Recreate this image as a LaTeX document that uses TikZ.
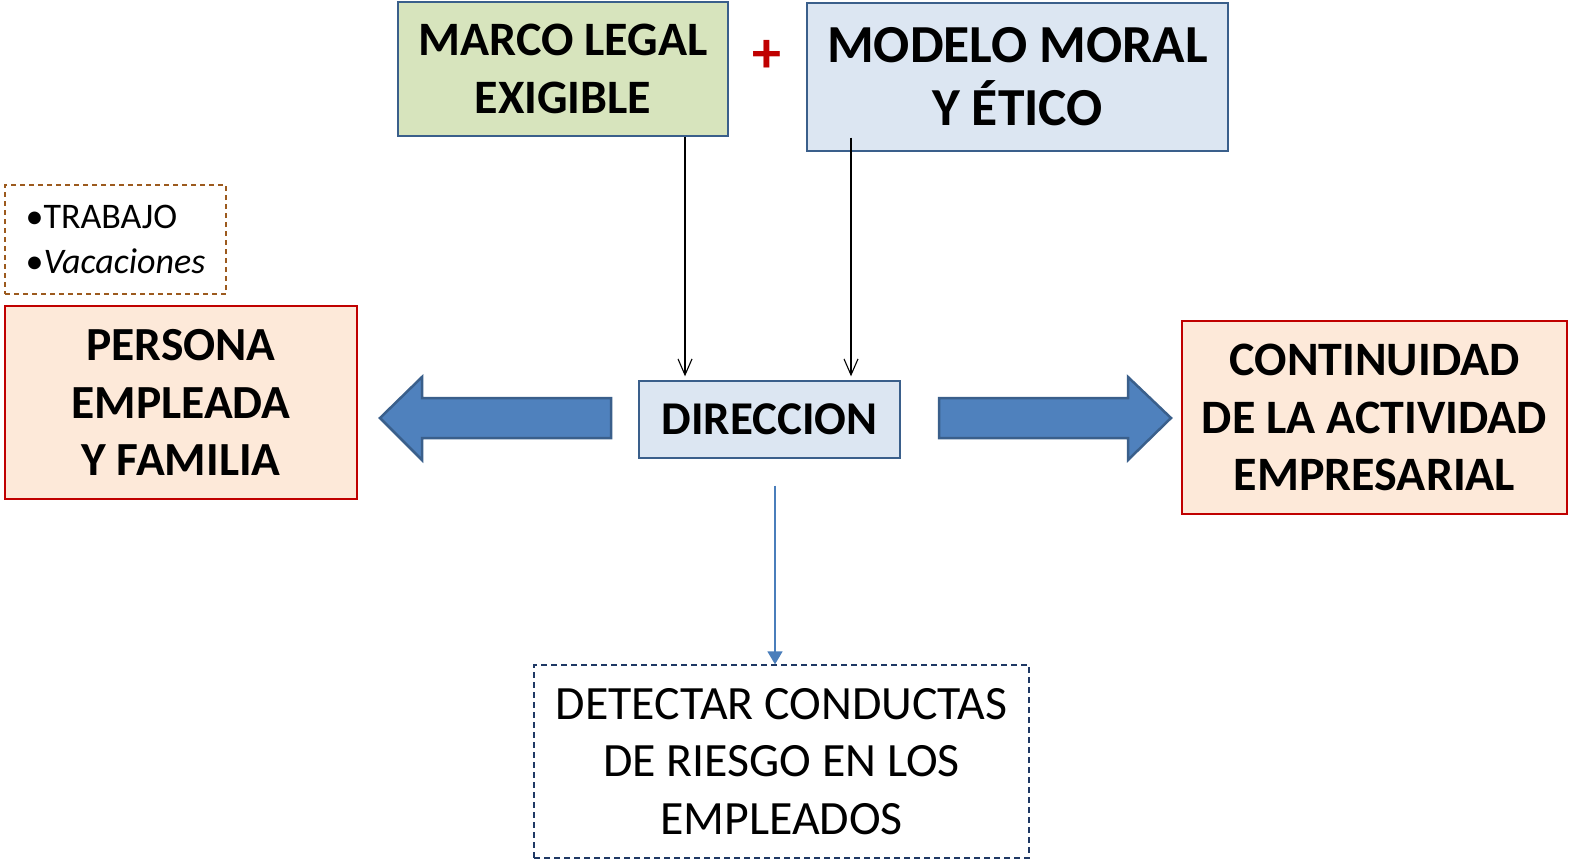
\documentclass[tikz,border=0pt]{standalone}
\usepackage{fontspec}
\setmainfont{Carlito}
\usetikzlibrary{arrows.meta,calc}
\definecolor{greenfill}{HTML}{D7E4BD}
\definecolor{bluefill}{HTML}{DCE6F2}
\definecolor{boxborder}{HTML}{3A5F8B}
\definecolor{pinkfill}{HTML}{FDE9D9}
\definecolor{redborder}{HTML}{C00000}
\definecolor{brownborder}{HTML}{9C5A1E}
\definecolor{arrowfill}{HTML}{4F81BD}
\definecolor{arrowborder}{HTML}{3A5F8B}
\definecolor{linkblue}{HTML}{4A7EBB}
\definecolor{dashblue}{HTML}{1F3864}
\definecolor{plusred}{HTML}{C00000}
\begin{document}
\begin{tikzpicture}[x=1pt,y=-1pt,
  box/.style={rectangle, line width=1.4pt, inner sep=0pt, align=center},
  thinarrow/.style={draw=black, line width=1.1pt, -{Straight Barb[length=16pt,width=14pt,line width=1.1pt]}},
  blockarrow/.style={fill=arrowfill, draw=arrowborder, line width=2.5pt, line join=miter}
]
\useasboundingbox (0,0) rectangle (1569,860);

\node[box, draw=boxborder, fill=greenfill, minimum width=330pt, minimum height=134pt, font=\fontsize{48}{58}\selectfont\bfseries] (marco) at (563,69) {MARCO LEGAL\\EXIGIBLE};
\node[box, draw=boxborder, fill=bluefill, minimum width=421pt, minimum height=148pt, font=\fontsize{53.5}{63}\selectfont\bfseries] (modelo) at (1017.5,77) {MODELO MORAL\\Y ÉTICO};
\node[text=plusred, font=\fontsize{58}{58}\selectfont\bfseries, inner sep=0pt] (plus) at (767,56) {+};

\node[box, draw=brownborder, line width=1.3pt, dash pattern=on 5pt off 4pt, minimum width=221pt, minimum height=109pt, align=left, font=\fontsize{36}{45}\selectfont] (list) at (115.5,239.5) {•TRABAJO\\•\textit{Vacaciones}};

\node[box, draw=redborder, fill=pinkfill, minimum width=352pt, minimum height=193pt, font=\fontsize{47.5}{57.5}\selectfont\bfseries] (persona) at (181,402.5) {PERSONA\\EMPLEADA\\Y FAMILIA};

\node[box, draw=boxborder, fill=bluefill, minimum width=261pt, minimum height=77pt, font=\fontsize{47}{50}\selectfont\bfseries] (dir) at (769.5,419.5) {DIRECCION};

\node[box, draw=redborder, fill=pinkfill, minimum width=385pt, minimum height=193pt, font=\fontsize{48}{57.5}\selectfont\bfseries] (cont) at (1374.5,417.5) {CONTINUIDAD\\DE LA ACTIVIDAD\\EMPRESARIAL};

\node[box, draw=dashblue, line width=1.3pt, dash pattern=on 6pt off 4pt, minimum width=495pt, minimum height=193pt, font=\fontsize{47.8}{57.5}\selectfont] (detect) at (781.5,761.5) {DETECTAR CONDUCTAS\\DE RIESGO EN LOS\\EMPLEADOS};

% thin arrows
\coordinate (xa) at (685,0);
\coordinate (xb) at (851,0);
\coordinate (xc) at (775,0);
\draw[thinarrow, shorten >=4pt] (marco.south -| xa) -- (dir.north -| xa);
\draw[thinarrow, shorten >=4pt] ($(modelo.south -| xb)+(0,-14)$) -- (dir.north -| xb);
\draw[draw=linkblue, line width=1.5pt, -{Triangle[length=13pt,width=15pt]}] ($(dir.south -| xc)+(0,27)$) -- (detect.north -| xc);

% block arrows
\coordinate (lt) at (380,418);
\coordinate (rt) at (1171,418);
\draw[blockarrow] (lt) -- (422,377) -- (422,398) -- (611,398) -- (611,438) -- (422,438) -- (422,460) -- cycle;
\draw[blockarrow] (rt) -- (1128,377) -- (1128,398) -- (939,398) -- (939,438) -- (1128,438) -- (1128,460) -- cycle;
\end{tikzpicture}
\end{document}
